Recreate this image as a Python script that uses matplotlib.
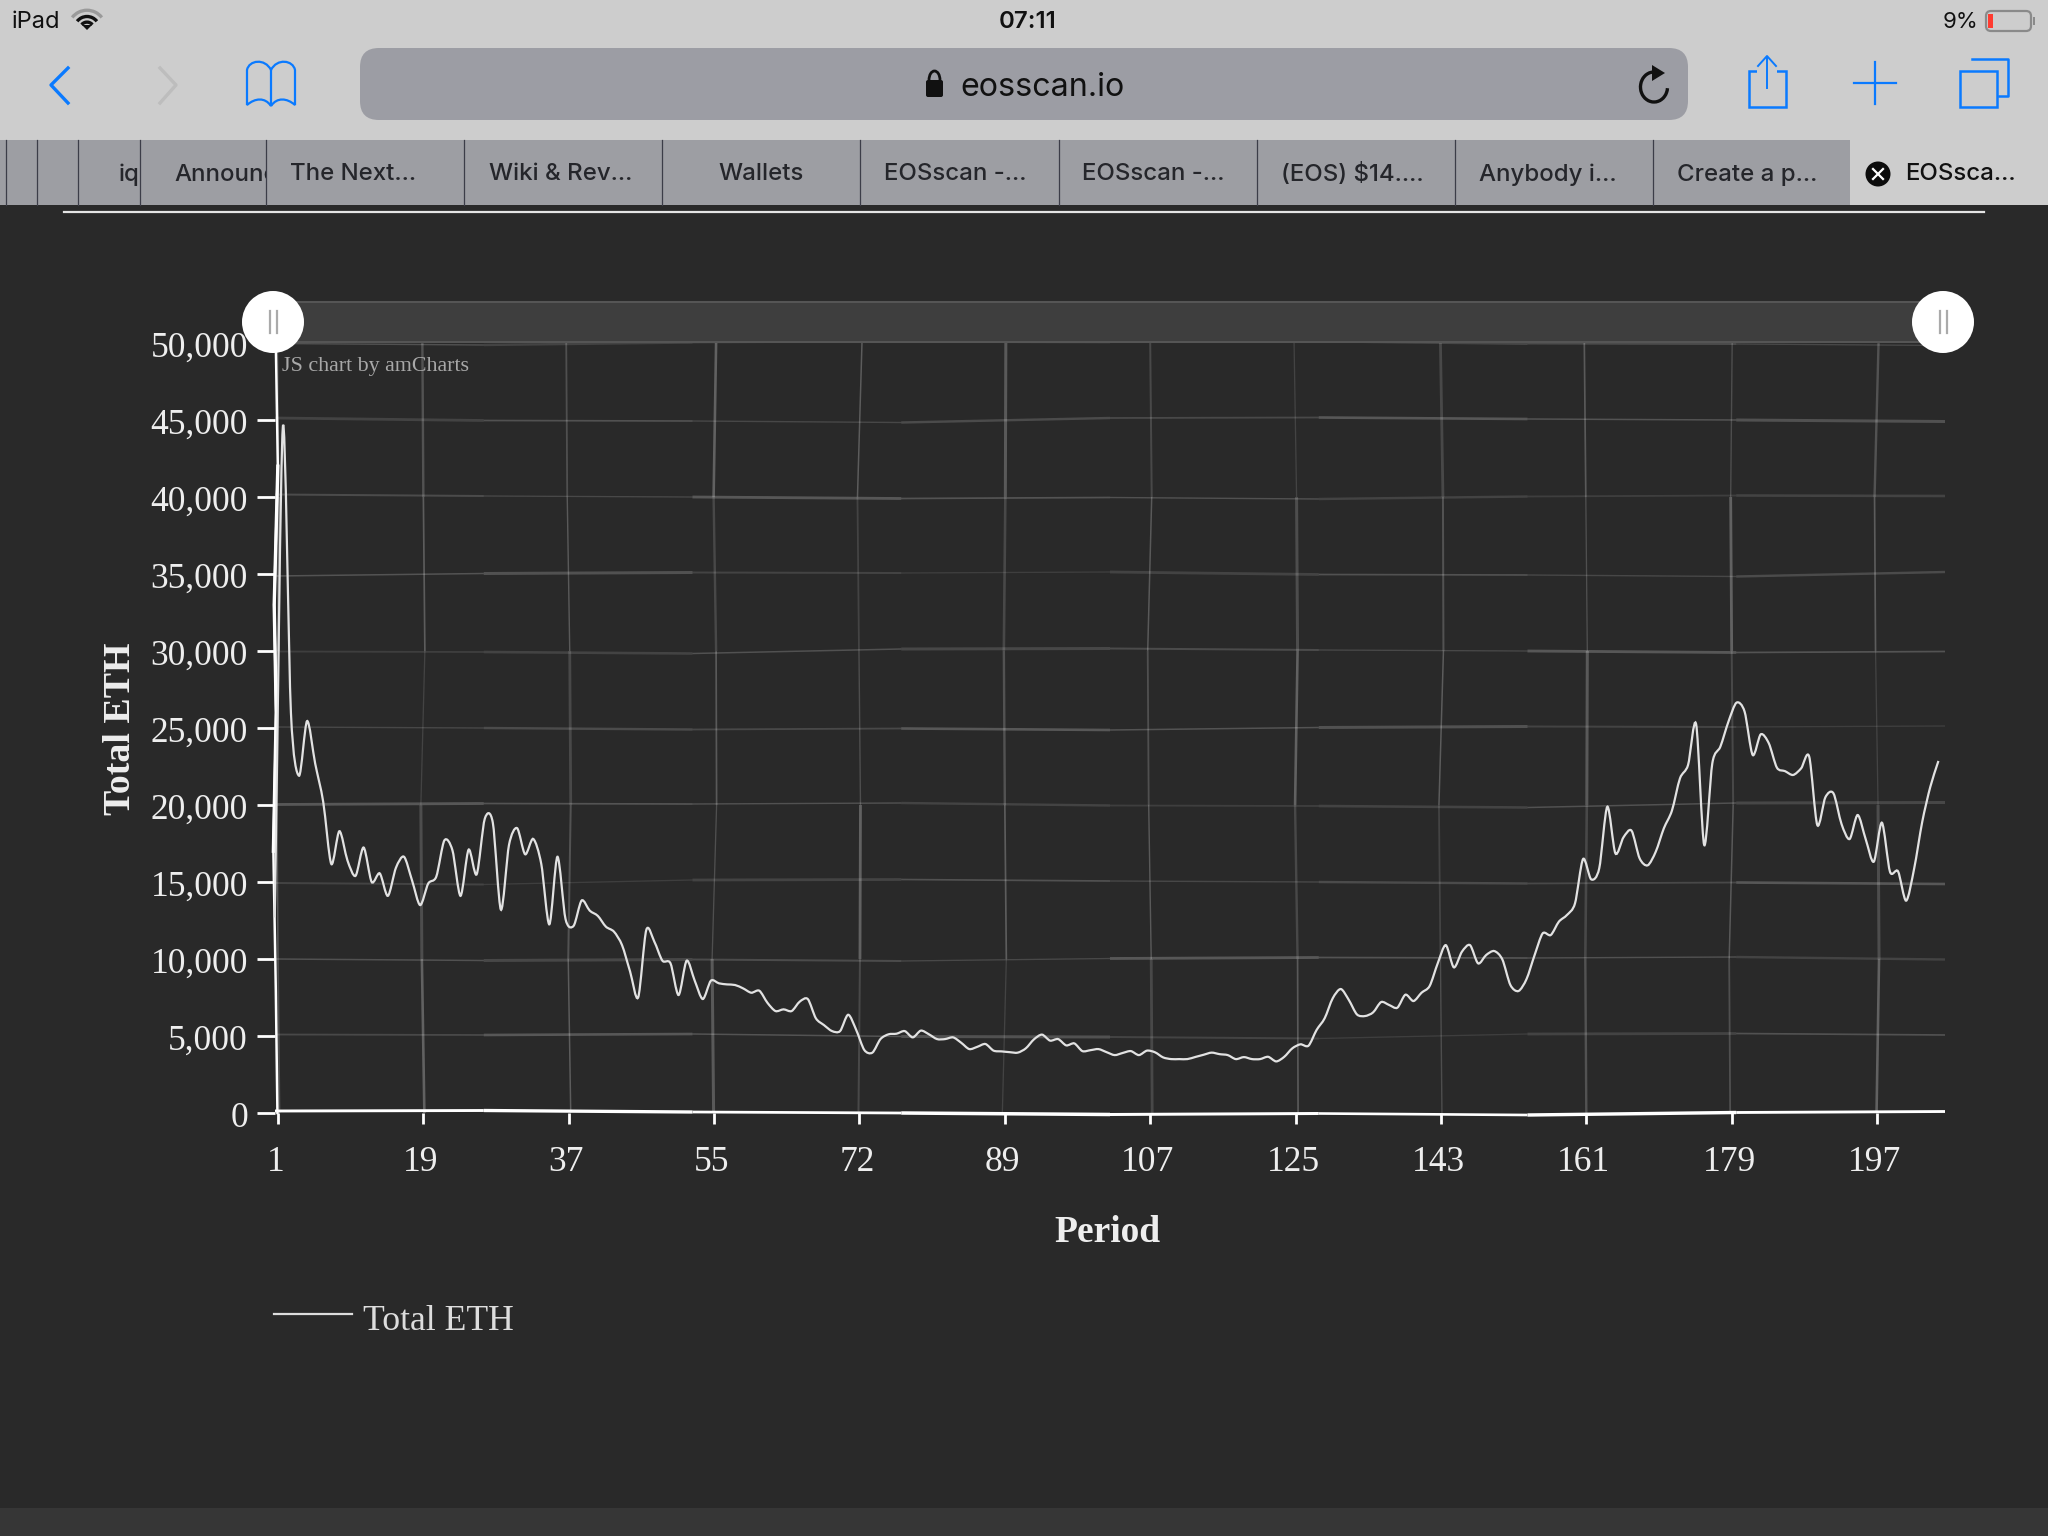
import numpy as np
import matplotlib
matplotlib.use("Agg")
import matplotlib.pyplot as plt
from matplotlib.path import Path
from matplotlib.patches import PathPatch, Rectangle, FancyBboxPatch, Circle, Arc, Polygon
from matplotlib.transforms import ScaledTranslation

# ---------- data ----------
total_eth = [
    12700, 44550, 26000, 21900, 25450, 22700, 20200, 16170, 18300, 16400,
    15400, 17240, 15000, 15560, 14100, 15920, 16640, 15100, 13500, 14900,
    15350, 17700, 17060, 14100, 17100, 15500, 19100, 18850, 13200, 17400,
    18500, 16800, 17800, 16170, 12250, 16640, 12600, 12150, 13800, 13140,
    12800, 12100, 11775, 10900, 9180, 7510, 11880, 11125, 9890, 9720,
    7660, 9890, 8590, 7400, 8590, 8420, 8350, 8310, 8090, 7810,
    7940, 7160, 6620, 6730, 6620, 7230, 7400, 6150, 5710, 5320,
    5320, 6380, 5390, 4090, 3920, 4800, 5110, 5150, 5320, 4910,
    5350, 5110, 4800, 4800, 4910, 4560, 4150, 4300, 4480, 4050,
    4000, 3950, 3920, 4200, 4780, 5090, 4700, 4800, 4390, 4520,
    4020, 4080, 4150, 3950, 3760, 3900, 4020, 3760, 4050, 3940,
    3610, 3500, 3500, 3500, 3640, 3780, 3920, 3820, 3760, 3500,
    3630, 3500, 3500, 3650, 3350, 3650, 4200, 4460, 4370, 5390,
    6150, 7450, 8050, 7335, 6400, 6296, 6534, 7205, 7010, 6837,
    7682, 7270, 7812, 8245, 9716, 10900, 9457, 10474, 10900, 9716,
    10258, 10517, 9976, 8310, 7920, 8700, 10258, 11665, 11557, 12423,
    12856, 13613, 16493, 15172, 15887, 19890, 16860, 17900, 18333, 16536,
    16082, 16970, 18485, 19632, 21732, 22600, 25240, 17400, 22700, 23790,
    25413, 26647, 26062, 23248, 24590, 24005, 22425, 22200, 21950, 22380,
    23140, 18700, 20500, 20760, 18766, 17790, 19350, 17770, 16320, 18853,
    15670, 15690, 13787, 15887, 18918, 21190, 22860,
]
period_ticks = [1, 19, 37, 55, 72, 89, 107, 125, 143, 161, 179, 197]
y_ticks = list(range(0, 50001, 5000))
tab_titles = ["The Next...", "Wiki & Rev...", "Wallets", "EOSscan -...", "EOSscan -...",
              "(EOS) $14....", "Anybody i...", "Create a p..."]

# ---------- figure ----------
W, H = 2048, 1536
BG = "#292929"
fig = plt.figure(figsize=(W / 100, H / 100), dpi=100, facecolor=BG)


def px_axes(l, t, r, b):
    return fig.add_axes([l / W, 1 - b / H, (r - l) / W, (b - t) / H])


# plot area
L, T, R, B = 275, 343, 1945, 1113
ax = px_axes(L, T, R, B)
ax.set_facecolor("none")
slot = 8.076
xmin = 1 - (278 - L) / slot
xmax = 1 + (R - 278) / slot
ax.set_xlim(xmin, xmax)
ax.set_ylim(0, 50000)
for s in ax.spines.values():
    s.set_visible(False)

tick_pos = [1 + 18 * i for i in range(len(period_ticks))]
ax.set_xticks(tick_pos)
ax.set_xticklabels(period_ticks)
ax.set_yticks(y_ticks)
ax.set_yticklabels([f"{v:,}" for v in y_ticks])
SERIF = "Liberation Serif"
ax.tick_params(axis="x", length=8, width=2, color="white", labelcolor="#eeeeee", labelsize=25.5, pad=15.5)
ax.tick_params(axis="y", length=13, width=2, color="white", labelcolor="#eeeeee", labelsize=25.5, pad=6.5)
for t in ax.get_xticklabels():
    t.set_family(SERIF)
    t.set_transform(t.get_transform() + ScaledTranslation(-2.5 / 100, 0, fig.dpi_scale_trans))
for t in ax.get_yticklabels():
    t.set_family(SERIF)
    t.set_transform(t.get_transform() + ScaledTranslation(0, -1.5 / 100, fig.dpi_scale_trans))
ax.set_xlabel("Period", family=SERIF, weight="bold", fontsize=27, color="#eeeeee")
ax.xaxis.set_label_coords((1107 - L) / (R - L), -(1232 - B) / (B - T), transform=ax.transAxes)
ax.xaxis.label.set_verticalalignment("center")
ax.set_ylabel("Total ETH", family=SERIF, weight="bold", fontsize=27.3, color="#eeeeee")
ax.yaxis.set_label_coords(-(L - 120) / (R - L), (B - 729) / (B - T), transform=ax.transAxes)
ax.yaxis.label.set_verticalalignment("center")

# hand-drawn wobble: offsets in px at evenly spaced knots, plus per-segment look
wob = [1.5, -0.5, 2, 0, -2, 1, -1, 2.5, -1.5, 0.5, 2, -2.5, 1, -0.5]
seg_alpha = [.15, .19, .12, .22, .14, .10, .2, .16, .12, .19]
seg_w = [1.8, 2.6, 1.5, 3, 2, 1.3, 2.8, 1.7, 1.4, 2.4]
dy_unit = 50000 / (B - T)
dx_unit = 1 / slot

for n, v in enumerate(y_ticks[1:] + [0]):
    kn = np.linspace(xmin, xmax, 9)
    off = [wob[(n * 3 + i * 5) % len(wob)] for i in range(9)]
    for i in range(8):
        a, lw = seg_alpha[(n + i * 3) % 10], seg_w[(n * 2 + i) % 10]
        if v == 0:
            a, lw = 1.0, 2 + seg_w[(n + i) % 10] * .5
        ax.plot(kn[i:i + 2], [v + off[i] * dy_unit, v + off[i + 1] * dy_unit],
                color="white", alpha=a, lw=lw * .72, solid_capstyle="butt", clip_on=False, zorder=1 + (v == 0) * 3)

for n, p in enumerate(tick_pos):
    kn = np.linspace(0, 50000, 6)
    off = [wob[(n * 5 + i * 3) % len(wob)] for i in range(6)]
    for i in range(5):
        ax.plot([p + off[i] * dx_unit, p + off[i + 1] * dx_unit], kn[i:i + 2],
                color="white", alpha=seg_alpha[(n * 3 + i) % 10] * 1.2, lw=seg_w[(n + i * 2) % 10] * .72,
                solid_capstyle="butt", zorder=1)

# left axis line, hand-drawn
lk = [xmin + .1, xmin + .35, xmin - .1, xmin + .15, xmin - .2, xmin + .1, xmin + .3]
lv = [50000, 42000, 33000, 26000, 17000, 8000, 0]
ax.plot(lk, lv, color="white", lw=1.8, clip_on=False, zorder=4)
ax.plot(lk[1:5], lv[1:5], color="white", lw=2.4, clip_on=False, zorder=4)

# series: smoothed line through the values, cells centred 0.4 before the period slot
x = np.arange(1, len(total_eth) + 1, dtype=float) - 0.4
y = np.asarray(total_eth, dtype=float)
pts = np.column_stack([x, y])
tang = np.zeros_like(pts)
tang[1:-1] = (pts[2:] - pts[:-2]) / 7
tang[0] = (pts[1] - pts[0]) / 3
tang[-1] = (pts[-1] - pts[-2]) / 3
verts = [pts[0]]
codes = [Path.MOVETO]
for i in range(len(pts) - 1):
    verts += [pts[i] + tang[i], pts[i + 1] - tang[i + 1], pts[i + 1]]
    codes += [Path.CURVE4] * 3
ax.add_patch(PathPatch(Path(verts, codes), fc="none", ec="#e2e2e2", lw=1.6, zorder=5, clip_on=False,
                       label="Total ETH"))

# overlay in screen pixels
ov = fig.add_axes([0, 0, 1, 1], zorder=10)
ov.set_xlim(0, W)
ov.set_ylim(H, 0)
ov.axis("off")
ov.patch.set_alpha(0)
UI = "Inter"
BLUE = "#0A7AFF"

ov.add_patch(Rectangle((0, 1508), W, 28, fc="#363636", ec="none"))

# chart cursor/scrollbar
ov.add_patch(Rectangle((285, 302), 1640, 40, fc="#3e3e3e", ec="#555555", lw=1.5))
for cx in (273, 1943):
    ov.add_patch(Circle((cx, 322), 31, fc="white", ec="none", zorder=3))
    for d in (-3.5, 3.5):
        ov.plot([cx + d, cx + d], [311, 333], color="#aaaaaa", lw=1.6, zorder=4)
ov.text(282, 367, "JS chart by amCharts", family=SERIF, fontsize=15.8, color="#a8a8a8", va="center")

# legend
ov.plot([274, 352], [1313.5, 1313.5], color="#dddddd", lw=1.6)
ov.text(363, 1321, "Total ETH", family=SERIF, fontsize=25.7, color="#dddddd", va="center")

# browser chrome
ov.add_patch(Rectangle((0, 0), W, 140, fc="#cdcdcd", ec="none"))
ov.add_patch(Rectangle((0, 140), W, 65, fc="#9d9ea3", ec="none"))
ov.add_patch(Rectangle((1850, 140), 198, 65, fc="#cdcdcd", ec="none"))
for xd in (6, 37, 78, 140, 266, 464, 662, 860, 1059, 1257, 1455, 1653):
    ov.plot([xd, xd], [140, 205], color="#3c3d48", lw=0.9)
ov.plot([64, 1984], [211.5, 211.5], color="#e4e4e4", lw=1.6)

ov.add_patch(FancyBboxPatch((360, 48), 1328, 72, boxstyle="round,pad=0,rounding_size=19", fc="#9c9da4", ec="none"))

ov.text(12, 22, "iPad", family=UI, fontsize=17, color="#111111", va="center")
ov.text(1028, 22, "07:11", family=UI, fontsize=17.3, weight="semibold", color="#111111", va="center", ha="center")
ov.text(1978, 22, "9%", family=UI, fontsize=16, color="#111111", va="center", ha="right")
ov.text(1042, 87.5, "eosscan.io", family=UI, fontsize=23.2, color="#111111", va="center", ha="center")

# wifi
for r, c in ((15, "#9a9a9a"), (10, "#111111"), (5.5, "#111111")):
    ov.add_patch(Arc((87, 29), 2 * r * 1.25, 2 * r * 1.25, theta1=218, theta2=322, ec=c, lw=2.4))
ov.add_patch(Polygon([[82, 25], [92, 25], [87, 30]], fc="#111111", ec="none"))
# battery
ov.add_patch(FancyBboxPatch((1986, 11), 45, 20, boxstyle="round,pad=0,rounding_size=5", fc="none", ec="#8a8a8a", lw=1.6))
ov.add_patch(Rectangle((1988, 14), 4.5, 14, fc="#ff3b30", ec="none"))
ov.add_patch(Rectangle((2033, 17), 1.5, 8, fc="#8a8a8a", ec="none"))

# nav icons
ov.plot([68, 51, 68], [68, 85, 103], color=BLUE, lw=2.4)
ov.plot([160, 176, 160], [68, 85, 103], color="#bdbdbd", lw=2.4)
book = Path([(271, 106), (265, 97), (255, 98), (247, 105), (247, 70), (249, 60), (265, 58), (271, 70), (277, 58),
             (293, 60), (295, 70), (295, 105), (287, 98), (277, 97), (271, 106), (271, 70)],
            [1, 4, 4, 4, 2, 4, 4, 4, 4, 4, 4, 2, 4, 4, 4, 2])
ov.add_patch(PathPatch(book, fc="none", ec=BLUE, lw=1.6))
ov.add_patch(Rectangle((1749, 71), 37, 36, fc="none", ec=BLUE, lw=1.8))
ov.add_patch(Rectangle((1757, 65), 20, 10, fc="#cdcdcd", ec="none"))
ov.plot([1767, 1767], [57, 88], color=BLUE, lw=1.4)
ov.plot([1758, 1767, 1776], [66, 56, 66], color=BLUE, lw=1.4)
ov.plot([1854, 1896], [83, 83], color=BLUE, lw=1.6)
ov.plot([1875, 1875], [62, 104], color=BLUE, lw=1.6)
ov.plot([1972, 2008, 2008, 1999], [59, 59, 96, 96], color=BLUE, lw=1.8)
ov.add_patch(Rectangle((1960, 71), 37, 36, fc="none", ec=BLUE, lw=1.8))
ov.add_patch(Arc((1654, 87), 27, 30, theta1=5, theta2=275, ec="#111111", lw=2.4))
ov.add_patch(Polygon([[1652, 65], [1665, 73], [1652, 81]], fc="#111111", ec="none"))
ov.add_patch(FancyBboxPatch((926, 80), 17, 17, boxstyle="round,pad=0,rounding_size=2", fc="#111111", ec="none"))
ov.add_patch(Arc((934.5, 80), 11, 18, theta1=180, theta2=360, ec="#111111", lw=2))

# tabs
TAB = "#25262b"
ov.text(119, 175, "iq", family=UI, fontsize=17.3, weight="medium", color=TAB, va="center")
ann = ov.text(174, 175, "Announce", family=UI, fontsize=17.3, weight="medium", color=TAB, va="center")
ann.set_clip_path(Rectangle((140, 140), 126, 65, transform=ov.transData))
ann.set_clip_on(True)
for cx, t in zip((353, 561, 761, 955, 1153, 1352, 1548, 1747), tab_titles):
    ov.text(cx, 174.5, t, family=UI, fontsize=17.3, weight="medium", color=TAB, va="center", ha="center")
ov.add_patch(Circle((1878, 174), 12.5, fc="#0c0c0c", ec="none"))
ov.plot([1873, 1883], [169, 179], color="white", lw=1.6)
ov.plot([1873, 1883], [179, 169], color="white", lw=1.6)
ov.text(1905, 174.5, "EOSsca...", family=UI, fontsize=17.3, weight="medium", color="#111111", va="center")

fig.savefig("out.png", dpi=100, facecolor=BG)
